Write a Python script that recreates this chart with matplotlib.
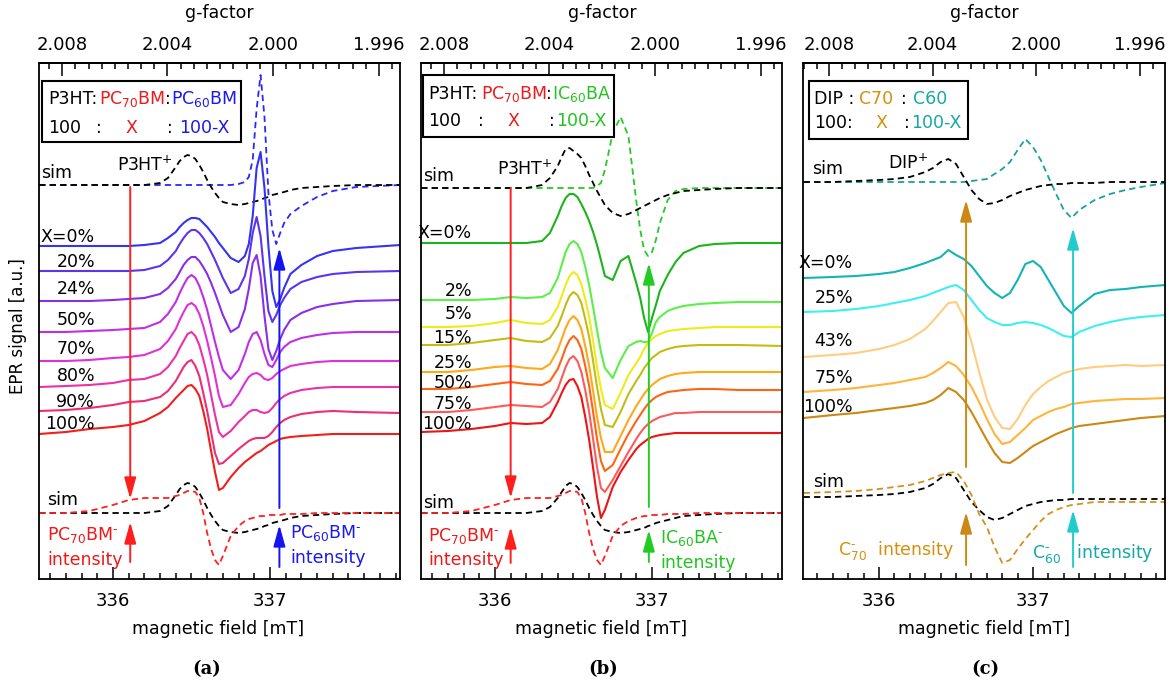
import numpy as np
import matplotlib
matplotlib.use("Agg")
import matplotlib.pyplot as plt
from matplotlib.patches import Rectangle
from matplotlib.ticker import FixedLocator, FormatStrFormatter

plt.rcParams['font.family'] = ['DejaVu Sans']
plt.rcParams['mathtext.fontset'] = 'dejavusans'

W, H = 1173, 684
G_TIMES_B = 674.04          # g * B [mT] at the microwave frequency used

# ------------------------------------------------------------------ data
FIELD_MAJOR = [336, 337]
G_MAJOR = [2.008, 2.004, 2.000, 1.996]

# ---- panel (a): P3HT:PC70BM:PC60BM
FIELD_A = [335.53, 335.70, 335.85, 336.00, 336.10, 336.20, 336.30, 336.35, 336.40,
           336.425, 336.45, 336.475, 336.50, 336.525, 336.55, 336.575, 336.60, 336.625,
           336.65, 336.675, 336.70, 336.75, 336.80, 336.84, 336.865, 336.89, 336.915, 336.94,
           336.965, 336.99, 337.015, 337.04, 337.065, 337.09, 337.13, 337.20, 337.30, 337.40,
           337.55, 337.83]
LABELS_A = ['X=0%', '20%', '24%', '50%', '70%', '80%', '90%', '100%']
A_X0 = [0, 0, 0, 0, 0, 1, 3, 8, 14,
        19, 23, 26, 28, 28, 27, 23, 19, 14,
        9, 3, -2, -12, -16, -10, 2, 30, 78, 94, 58, 0, -45, -61, -53, -42, -28, -19, -10, -5, -2, 1]
A_20 = [0, 0, 0, 0, 0, 1, 5, 11, 20,
        27, 33, 38, 41, 41, 38, 33, 27, 19,
        11, 2, -7, -22, -18, -5, 12, 38, 54, 35, -5, -40, -51, -44, -34, -27, -18, -11, -6, -3, -1, 0]
A_24 = [0, 0, 0, 1, 2, 3, 7, 13, 22,
        29, 36, 41, 44, 44, 40, 34, 27, 18,
        8, -3, -14, -31, -26, -8, 12, 38, 46, 25, -15, -48, -59, -50, -38, -29, -19, -12, -6, -3, 0, 1]
A_50 = [0, 0, 1, 2, 3, 4, 10, 18, 30,
        39, 47, 54, 57, 54, 46, 35, 22, 6,
        -10, -25, -38, -47, -38, -22, -10, -2, 0, -8, -22, -33, -35, -28, -20, -15, -10, -6, -3, -1, 0, 0]
A_70 = [0, 0, 1, 3, 4, 6, 12, 20, 32,
        41, 49, 56, 58, 55, 47, 35, 20, 3,
        -15, -35, -46, -44, -33, -22, -16, -13, -12, -14, -18, -19, -17, -13, -10, -8, -5, -3, -1, 0, 0, 0]
A_80 = [0, 1, 2, 4, 7, 8, 13, 20, 31,
        39, 46, 53, 55, 51, 42, 28, 12, -8,
        -28, -45, -50, -44, -35, -29, -25, -23, -23, -25, -26, -25, -21, -16, -12, -9, -6, -3, -1, 0, 0, 0]
A_90 = [0, 1, 3, 6, 9, 10, 14, 20, 30,
        37, 44, 49, 51, 45, 35, 18, 0, -21,
        -42, -53, -52, -45, -38, -33, -30, -28, -27, -27, -27, -25, -21, -16, -12, -9, -6, -3, -1, 0, -1, -2]
A_100 = [0, 2, 5, 7, 9, 13, 21, 27, 36,
         40, 44, 48, 49, 45, 38, 23, 5, -17,
         -38, -56, -54, -43, -34, -28, -25, -22, -19, -17, -14, -11, -9, -7, -5, -4, -3, -2, -1, 0, 0, 0]
OFFSETS_A = [333, 308, 278, 247, 218, 192, 168, 145]
A_SIM_P3HT = [0, 0, 0, 0, 0, 0, 2, 7, 18,
              24, 28, 30, 29, 26, 20, 13, 5, -2,
              -8, -13, -17, -19, -20, -19, -18, -17, -16, -15, -13, -12, -10, -9, -8, -7, -5, -3, -2, -1, 0, 0]
A_SIM_PC60 = [0, 0, 0, 0, 0, 0, 0, 0, 0,
              0, 0, 0, 0, 0, 0, 0, 0, 0,
              0, 0, 0, 0, 1, 3, 8, 25, 76, 110, 68, -8, -45, -59, -48, -38, -29, -21, -12, -6, -2, 0]
A_SIM_PC70 = [0, 0, 2, 8, 13, 15, 15, 15, 17,
              18, 20, 22, 22, 21, 15, 0, -20, -36,
              -47, -52, -43, -23, -13, -8, -6, -5, -4, -3, -3, -2, -2, -2, -2, -1, -1, -1, 0, 0, 0, 0]
SIM_OFFSETS_A = [394, 66]
ARROW_FIELD_A = [336.11, 337.06]

# ---- panel (b): P3HT:PC70BM:IC60BA
FIELD_B = [335.53, 335.70, 335.85, 336.00, 336.10, 336.20, 336.30, 336.35, 336.40,
           336.425, 336.45, 336.475, 336.50, 336.525, 336.55, 336.575, 336.60, 336.625,
           336.65, 336.675, 336.70, 336.75, 336.80, 336.85, 336.90, 336.925, 336.95, 336.975,
           337.00, 337.025, 337.05, 337.10, 337.15, 337.20, 337.30, 337.40, 337.55, 337.83]
LABELS_B = ['X=0%', '2%', '5%', '15%', '25%', '50%', '75%', '100%']
B_X0 = [0, 0, 0, 0, 0, 0, 2, 10, 27,
        37, 45, 49, 49, 46, 39, 31, 22, 11,
        -2, -17, -33, -37, -18, -13, -40, -55, -75, -89, -75, -62, -48, -32, -19, -10, -3, -1, 0, 0]
B_2 = [0, 0, 0, 1, 3, 2, 3, 7, 22,
       35, 48, 56, 59, 56, 48, 33, 15, -7,
       -30, -52, -68, -78, -60, -46, -42, -41, -42, -42, -33, -22, -17, -11, -8, -6, -4, -3, -2, -2]
B_5 = [0, 0, 1, 4, 7, 4, 3, 7, 20,
       31, 42, 51, 55, 52, 43, 28, 10, -14,
       -40, -62, -78, -82, -66, -48, -36, -30, -22, -16, -12, -9, -7, -4, -3, -2, -1, 0, 0, 0]
B_15 = [0, 0, 2, 5, 7, 4, 3, 7, 19,
        29, 40, 49, 53, 50, 42, 26, 8, -16,
        -42, -64, -80, -82, -67, -49, -36, -30, -23, -18, -13, -10, -7, -4, -2, -1, 0, 0, 0, -1]
B_25 = [0, 0, 2, 5, 6, 4, 3, 8, 22,
        33, 44, 52, 56, 52, 43, 26, 6, -19,
        -45, -66, -80, -80, -64, -48, -34, -28, -22, -17, -13, -10, -7, -4, -2, -1, 0, 0, 0, 0]
B_50 = [0, 0, 2, 5, 7, 5, 4, 8, 20,
        30, 41, 49, 53, 49, 40, 23, 3, -23,
        -50, -72, -82, -76, -60, -45, -32, -26, -20, -15, -11, -8, -6, -3, -2, -1, 0, 0, -1, -1]
B_75 = [0, 0, 2, 5, 7, 6, 5, 10, 23,
        34, 45, 53, 56, 51, 40, 22, 0, -27,
        -55, -76, -80, -68, -54, -40, -27, -21, -16, -12, -9, -7, -5, -3, -1, -1, 0, 0, 0, 0]
B_100 = [0, 1, 3, 6, 9, 8, 9, 15, 30,
         39, 47, 52, 53, 46, 35, 15, -8, -36,
         -65, -86, -78, -55, -40, -28, -17, -13, -10, -7, -5, -4, -3, -2, -1, -1, -1, -1, -1, -1]
OFFSETS_B = [336, 279, 252, 234, 207, 190, 167, 147]
B_SIM_P3HT_TOP = [0, 0, 0, 0, 0, 0, 3, 10, 22,
                  31, 39, 40, 37, 34, 30, 22, 13, 5,
                  -3, -10, -17, -25, -28, -26, -22, -20, -18, -16, -14, -12, -10, -7, -5, -3, -2, -1, 0, 0]
B_SIM_IC60 = [0, 0, 0, 0, 0, 0, 0, 0, 0,
              0, 0, 0, 0, 0, 0, 0, 0, 0,
              2, 5, 18, 55, 71, 52, -13, -42, -62, -68, -64, -52, -35, -12, -3, -1, 0, 0, 0, 0]
B_SIM_P3HT_BOT = [0, 0, 0, 0, 0, 0, 2, 6, 15,
                  21, 27, 30, 29, 26, 20, 13, 5, -2,
                  -8, -13, -17, -19, -20, -19, -17, -16, -15, -13, -12, -10, -9, -7, -5, -3, -2, -1, 0, 0]
B_SIM_PC70 = [0, 0, 2, 8, 13, 15, 15, 15, 17,
              18, 20, 22, 22, 21, 15, 0, -20, -36,
              -47, -52, -43, -23, -13, -8, -5, -4, -3, -3, -2, -2, -2, -1, -1, -1, 0, 0, 0, 0]
SIM_OFFSETS_B = [391, 66]
ARROW_FIELD_B = [336.10, 336.98]

# ---- panel (c): DIP:C70:C60
FIELD_C = [335.51, 335.70, 335.85, 336.00, 336.10, 336.20, 336.30, 336.35, 336.40, 336.45,
           336.50, 336.55, 336.60, 336.65, 336.70, 336.75, 336.80, 336.85, 336.90, 336.95,
           337.00, 337.05, 337.10, 337.15, 337.20, 337.25, 337.30, 337.40, 337.50, 337.60,
           337.70, 337.86]
LABELS_C = ['X=0%', '25%', '43%', '75%', '100%']
C_X0 = [0, 1, 2, 4, 6, 10, 15, 18, 21, 28, 23, 19, 12, 2, -8, -15, -20, -15, -2, 14,
        17, 11, -2, -15, -28, -35, -28, -16, -12, -11, -9, -7]
C_25 = [0, 1, 3, 6, 9, 12, 16, 19, 22, 25, 27, 22, 12, 2, -6, -10, -13, -13, -11, -10,
        -11, -13, -16, -20, -24, -25, -20, -14, -10, -7, -5, -3]
C_43 = [0, 2, 4, 8, 12, 18, 28, 36, 45, 54, 55, 40, 15, -15, -42, -60, -71, -72, -62, -48,
        -37, -30, -24, -20, -16, -14, -12, -10, -9, -8, -9, -8]
C_75 = [0, 2, 4, 7, 9, 12, 15, 19, 24, 30, 26, 17, 5, -10, -27, -42, -52, -50, -43, -36,
        -28, -24, -20, -17, -15, -12, -11, -9, -8, -7, -7, -6]
C_100 = [0, 3, 5, 8, 10, 12, 15, 18, 23, 30, 26, 18, 6, -8, -22, -35, -44, -45, -40, -34,
         -28, -24, -20, -16, -13, -10, -8, -6, -4, -2, 0, 2]
OFFSETS_C = [301, 267, 222, 187, 161]
C_SIM_DIP_TOP = [0, 0, 1, 2, 3, 5, 10, 14, 20, 23, 18, 5, -8, -17, -22, -21, -18, -14, -11, -8,
                 -6, -4, -3, -2, -2, -1, -1, -1, 0, 0, 0, 0]
C_SIM_C60 = [0, 0, 0, 0, 0, 0, 0, 0, 0, 0, 0, 0, 1, 2, 3, 8, 13, 20, 32, 43,
             35, 22, 5, -12, -28, -36, -28, -18, -12, -8, -5, -1]
C_SIM_DIP_BOT = [0, 0, 1, 2, 3, 5, 9, 13, 19, 23, 19, 7, -5, -13, -20, -23, -21, -17, -13, -9,
                 -7, -5, -4, -3, -3, -2, -2, -2, -2, -2, -2, -2]
C_SIM_C70 = [4, 5, 6, 8, 10, 12, 16, 19, 22, 24, 25, 16, 2, -17, -30, -50, -66, -63, -52, -42,
             -33, -24, -17, -13, -10, -8, -7, -5, -5, -5, -5, -5]
SIM_OFFSETS_C = [397, 82]
ARROW_FIELD_C = [336.565, 337.26]

# ------------------------------------------------------------------ styles
RED = '#f01818'
BLUE = '#1a1af0'
GREEN = '#22c422'
ORANGE = '#cc8814'
ORANGE_TXT = '#d4900c'
TEAL = '#22cccc'
TEAL_TXT = '#16a8a8'
COLORS_A = ['#3434f2', '#5c34ee', '#8a2ee8', '#c22ee6', '#e030d8', '#ec30a8', '#f02c74', '#f21e1e']
COLORS_B = ['#1cb41c', '#5cef4a', '#ecec1a', '#c4bc14', '#ffa81a', '#ff6414', '#ff5a5a', '#ee1414']
COLORS_C = ['#14b4b4', '#3cf0f0', '#ffcc80', '#ffb43c', '#cc8814']
DASH = (0, (3.5, 2.3))
TXT = 12.5
SUPM = r'$^{\text{-}}$'

fig = plt.figure(figsize=(W / 100, H / 100), dpi=100)


def b2g(b):
    return G_TIMES_B / np.asarray(b, dtype=float)


def g2b(g):
    return G_TIMES_B / np.asarray(g, dtype=float)


def make_axes(x0, x1, xlim):
    ax = fig.add_axes([x0 / W, 1 - 579 / H, (x1 - x0) / W, 516 / H])
    ax.set_xlim(*xlim)
    ax.set_ylim(0, 516)
    ax.set_yticks([])
    for s in ax.spines.values():
        s.set_linewidth(1.3)
    ax.xaxis.set_major_locator(FixedLocator(FIELD_MAJOR))
    ax.xaxis.set_minor_locator(FixedLocator(np.round(np.arange(335.6, 337.9, 0.1), 2)))
    ax.xaxis.set_major_formatter(FormatStrFormatter('%d'))
    ax.tick_params(axis='x', which='major', direction='in', length=9, width=1.1,
                   pad=9, labelsize=13, top=False)
    ax.tick_params(axis='x', which='minor', direction='in', length=4.5, width=1.1, top=False)
    sec = ax.secondary_xaxis('top', functions=(b2g, g2b))
    sec.xaxis.set_major_locator(FixedLocator(G_MAJOR))
    sec.xaxis.set_minor_locator(FixedLocator(np.round(np.arange(1.9955, 2.0096, 0.0005), 4)))
    sec.xaxis.set_major_formatter(FormatStrFormatter('%.3f'))
    sec.tick_params(axis='x', which='major', direction='in', length=9, width=1.1,
                    pad=6.5, labelsize=13)
    sec.tick_params(axis='x', which='minor', direction='in', length=4.5, width=1.1)
    sec.spines['top'].set_linewidth(1.3)
    return ax


def stack(ax, field, curves, offsets, colors):
    f = np.asarray(field)
    for dev, off, c in zip(curves, offsets, colors):
        ax.plot(f, np.asarray(dev) + off, color=c, lw=1.5, solid_joinstyle='round')


def sim(ax, field, dev, off, color):
    ax.plot(np.asarray(field), np.asarray(dev) + off, color=color, lw=1.3, ls=DASH)


def arrow(ax, x, y_tail, y_tip, color):
    ax.annotate('', xy=(x, y_tip), xytext=(x, y_tail),
                arrowprops=dict(arrowstyle='-|>,head_length=1.3,head_width=0.36',
                                color=color, lw=1.4, shrinkA=0, shrinkB=0,
                                mutation_scale=10))


def ftxt(px, py, s, color='black', ha='left', size=TXT, **kw):
    fig.text(px / W, 1 - py / H, s, color=color, ha=ha, va='baseline', fontsize=size, **kw)


def box(x0, y0, x1, y1):
    fig.add_artist(Rectangle((x0 / W, 1 - y1 / H), (x1 - x0) / W, (y1 - y0) / H,
                             transform=fig.transFigure, fill=True, fc='white',
                             ec='black', lw=1.5))


# ------------------------------------------------------------------ panel (a)
axA = make_axes(39, 400, (335.529, 337.828))
sim(axA, FIELD_A, A_SIM_PC60, SIM_OFFSETS_A[0], '#2828ff')
sim(axA, FIELD_A, A_SIM_P3HT, SIM_OFFSETS_A[0], 'black')
stack(axA, FIELD_A, [A_X0, A_20, A_24, A_50, A_70, A_80, A_90, A_100], OFFSETS_A, COLORS_A)
sim(axA, FIELD_A, A_SIM_P3HT, SIM_OFFSETS_A[1], 'black')
sim(axA, FIELD_A, A_SIM_PC70, SIM_OFFSETS_A[1], '#ff2020')
arrow(axA, ARROW_FIELD_A[0], 392, 80, '#ff1e1e')
arrow(axA, ARROW_FIELD_A[0], 17, 57, '#ff1e1e')
arrow(axA, ARROW_FIELD_A[1], 71, 331, '#1414f0')
arrow(axA, ARROW_FIELD_A[1], 12, 54, '#1414f0')

ftxt(41, 178, 'sim')
ftxt(117, 171, 'P3HT$^{+}$')
for lab, yb in zip(LABELS_A, [242, 267, 294, 325, 354, 381, 407, 429]):
    ftxt(95, yb, lab, ha='right')
ftxt(47, 505, 'sim')
ftxt(47, 540, 'PC$_{70}$BM' + SUPM, RED)
ftxt(47, 565, 'intensity', RED)
ftxt(290, 538, 'PC$_{60}$BM' + SUPM, BLUE)
ftxt(290, 563, 'intensity', BLUE)
box(42, 81, 241, 142)
for s, x, c in [('P3HT:', 48, 'black'), ('PC$_{70}$BM', 99, RED), (':', 165, 'black'),
                ('PC$_{60}$BM', 171, BLUE)]:
    ftxt(x, 104, s, c)
for s, x, c in [('100', 48, 'black'), (':', 96, 'black'), ('X', 125, RED), (':', 167, 'black'),
                ('100-X', 179, BLUE)]:
    ftxt(x, 133, s, c)

# ------------------------------------------------------------------ panel (b)
axB = make_axes(421, 782, (335.529, 337.828))
sim(axB, FIELD_B, B_SIM_IC60, SIM_OFFSETS_B[0], '#28c828')
sim(axB, FIELD_B, B_SIM_P3HT_TOP, SIM_OFFSETS_B[0], 'black')
stack(axB, FIELD_B, [B_X0, B_2, B_5, B_15, B_25, B_50, B_75, B_100], OFFSETS_B, COLORS_B)
sim(axB, FIELD_B, B_SIM_P3HT_BOT, SIM_OFFSETS_B[1], 'black')
sim(axB, FIELD_B, B_SIM_PC70, SIM_OFFSETS_B[1], '#ff2020')
arrow(axB, ARROW_FIELD_B[0], 391, 81, '#ff1e1e')
arrow(axB, ARROW_FIELD_B[0], 16, 52, '#ff1e1e')
arrow(axB, ARROW_FIELD_B[1], 72, 316, '#22cc22')
arrow(axB, ARROW_FIELD_B[1], 17, 49, '#22cc22')

ftxt(423, 181, 'sim')
ftxt(497, 175, 'P3HT$^{+}$')
for lab, yb in zip(LABELS_B, [238, 296, 319, 343, 368, 388, 409, 429]):
    ftxt(472, yb, lab, ha='right')
ftxt(423, 508, 'sim')
ftxt(428, 541, 'PC$_{70}$BM' + SUPM, RED)
ftxt(428, 565, 'intensity', RED)
ftxt(660, 543, 'IC$_{60}$BA' + SUPM, GREEN)
ftxt(660, 568, 'intensity', GREEN)
box(423, 75, 614, 137)
for s, x, c in [('P3HT:', 428, 'black'), ('PC$_{70}$BM', 481, RED), (':', 546, 'black'),
                ('IC$_{60}$BA', 552, GREEN)]:
    ftxt(x, 99, s, c)
for s, x, c in [('100', 428, 'black'), (':', 478, 'black'), ('X', 507, RED), (':', 549, 'black'),
                ('100-X', 556, GREEN)]:
    ftxt(x, 126, s, c)

# ------------------------------------------------------------------ panel (c)
axC = make_axes(803, 1165, (335.506, 337.857))
sim(axC, FIELD_C, C_SIM_C60, SIM_OFFSETS_C[0], '#1aa0a0')
sim(axC, FIELD_C, C_SIM_DIP_TOP, SIM_OFFSETS_C[0], 'black')
stack(axC, FIELD_C, [C_X0, C_25, C_43, C_75, C_100], OFFSETS_C, COLORS_C)
sim(axC, FIELD_C, C_SIM_DIP_BOT, SIM_OFFSETS_C[1], 'black')
sim(axC, FIELD_C, C_SIM_C70, SIM_OFFSETS_C[1], '#d4901c')
arrow(axC, ARROW_FIELD_C[0], 112, 379, ORANGE)
arrow(axC, ARROW_FIELD_C[0], 14, 67, ORANGE)
arrow(axC, ARROW_FIELD_C[1], 86, 351, TEAL)
arrow(axC, ARROW_FIELD_C[1], 12, 69, TEAL)

ftxt(812, 174, 'sim')
ftxt(888, 169, 'DIP$^{+}$')
for lab, yb in zip(LABELS_C, [268, 303, 346, 383, 412]):
    ftxt(853, yb, lab, ha='right')
ftxt(813, 487, 'sim')
ftxt(838, 555, r'C$_{70}^{\text{-}}$  intensity', ORANGE_TXT)
ftxt(1032, 558, r'C$_{60}^{\text{-}}$   intensity', TEAL_TXT)
box(809, 81, 968, 139)
for s, x, c in [('DIP :', 814, 'black'), ('C70', 859, ORANGE_TXT), (':', 901, 'black'),
                ('C60', 913, TEAL_TXT)]:
    ftxt(x, 104, s, c)
for s, x, c in [('100:', 814, 'black'), ('X', 875, ORANGE_TXT), (':', 904, 'black'),
                ('100-X', 911, TEAL_TXT)]:
    ftxt(x, 128, s, c)

# ------------------------------------------------------------------ common labels
for cx in (219, 602, 984):
    ftxt(cx, 18, 'g-factor', ha='center')
for cx in (218, 601, 984):
    ftxt(cx, 634, 'magnetic field [mT]', ha='center')
for cx, s in ((207, '(a)'), (603, '(b)'), (985, '(c)')):
    ftxt(cx, 674, s, ha='center', size=13, family='DejaVu Serif', weight='bold')
fig.text(18 / W, 1 - 326 / H, 'EPR signal [a.u.]', rotation=90, ha='center', va='center',
         fontsize=12)

fig.savefig('out.png', dpi=100)
